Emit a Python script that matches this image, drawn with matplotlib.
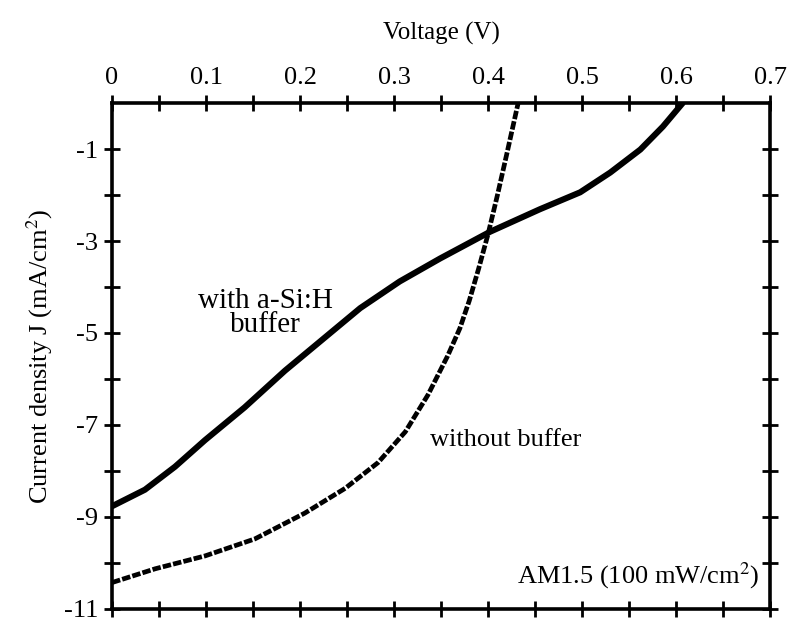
import matplotlib.pyplot as plt
import numpy as np

plt.rcParams['font.family'] = ['Liberation Serif', 'DejaVu Serif']
plt.rcParams['mathtext.fontset'] = 'stix'
plt.rcParams['axes.unicode_minus'] = False

# with a-Si:H buffer
v_buf = [0, 0.035, 0.067, 0.099, 0.141, 0.184, 0.224, 0.264, 0.306, 0.349, 0.402,
         0.455, 0.498, 0.530, 0.562, 0.586, 0.607]
j_buf = [-8.77, -8.41, -7.91, -7.33, -6.62, -5.82, -5.14, -4.46, -3.88, -3.38, -2.80,
         -2.31, -1.94, -1.51, -1.01, -0.51, 0.0]

# without buffer
v_nob = [0, 0.046, 0.099, 0.152, 0.205, 0.248, 0.283, 0.312, 0.336, 0.357, 0.37,
         0.38, 0.39, 0.40, 0.41, 0.42, 0.432]
j_nob = [-10.43, -10.13, -9.85, -9.48, -8.92, -8.38, -7.82, -7.15, -6.35, -5.5, -4.9,
         -4.3, -3.6, -2.85, -2.0, -1.1, 0.0]

xticks = [0, 0.1, 0.2, 0.3, 0.4, 0.5, 0.6, 0.7]
xlabels = ['0', '0.1', '0.2', '0.3', '0.4', '0.5', '0.6', '0.7']
yticks = [-1, -3, -5, -7, -9, -11]

fig = plt.figure(figsize=(7.89, 6.25), dpi=100)
ax = fig.add_axes([0.142, 0.026, 0.834, 0.809])

ax.plot(v_buf, j_buf, color='black', lw=4.4, solid_capstyle='round', solid_joinstyle='round')
ax.plot(v_nob, j_nob, color='black', lw=3.4, linestyle=(0, (1.8, 0.45)))

ax.set_xlim(0, 0.7)
ax.set_ylim(-11, 0)

ax.xaxis.tick_top()
ax.xaxis.set_label_position('top')
ax.set_xticks(xticks)
ax.set_xticklabels(xlabels)
ax.set_xticks(np.arange(0.05, 0.7, 0.1), minor=True)
ax.set_yticks(yticks)
ax.set_yticks([-2, -4, -6, -8, -10], minor=True)

for s in ax.spines.values():
    s.set_linewidth(2.6)

ax.tick_params(which='both', direction='inout', length=12, width=2.0,
               top=True, bottom=True, left=True, right=True, labelsize=19, pad=4)
ax.tick_params(axis='x', which='both', labelbottom=False, labeltop=True)

ax.set_xlabel('Voltage (V)', fontsize=18, labelpad=20)
ax.set_ylabel('Current density J (mA/cm$^2$)', fontsize=19, labelpad=6)

ax.text(0.163, -4.57, 'with a-Si:H\nbuffer', fontsize=21, ha='center', va='center', linespacing=0.9)
ax.text(0.338, -7.33, 'without buffer', fontsize=19, ha='left', va='center')
ax.text(0.689, -10.28, 'AM1.5 (100 mW/cm$^2$)', fontsize=19, ha='right', va='center')

fig.savefig('out.png', dpi=100)
